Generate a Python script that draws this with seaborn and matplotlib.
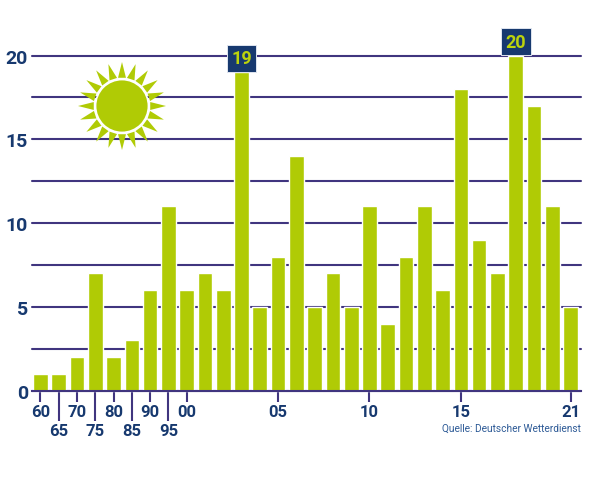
import numpy as np
import pandas as pd
import seaborn as sns
import matplotlib.pyplot as plt
from matplotlib.patches import Circle, Polygon

years = ['60', '65', '70', '75', '80', '85', '90', '95', '00', '01', '02', '03', '04', '05', '06',
         '07', '08', '09', '10', '11', '12', '13', '14', '15', '16', '17', '18', '19', '20', '21']
days = [1, 1, 2, 7, 2, 3, 6, 11, 6, 7, 6, 19, 5, 8, 14,
        5, 7, 5, 11, 4, 8, 11, 6, 18, 9, 7, 20, 17, 11, 5]
short_ticks = ['60', '70', '80', '90', '00', '05', '10', '15', '21']
long_ticks = ['65', '75', '85', '95']
highlight = ['03', '18']
source = 'Quelle: Deutscher Wetterdienst'

green = '#b0cb05'
navy = '#17396f'
line = '#40357f'

sns.set_style('white')
plt.rcParams['font.family'] = ['Roboto', 'DejaVu Sans']

df = pd.DataFrame({'year': years, 'days': days})

fig = plt.figure(figsize=(6, 4.81), dpi=100)
ax = fig.add_axes([32 / 600, 1 - 391.6 / 481, (581 - 32) / 600, (391.6 - 56.6) / 481])

sns.barplot(data=df, x='year', y='days', color=green, saturation=1, width=0.8,
            edgecolor='white', linewidth=1, ax=ax, zorder=3)
for b in ax.patches:
    b.set_clip_on(False)

ax.set_xlim(-0.46, 29.57)
ax.set_ylim(0, 20)
ax.set_xlabel('')
ax.set_ylabel('')

# y axis: numbers every 5, lines every 2.5
ax.set_yticks([0, 5, 10, 15, 20])
ax.set_yticks([2.5, 7.5, 12.5, 17.5], minor=True)
ax.grid(True, axis='y', which='both', color=line, lw=1.5, clip_on=False)
ax.grid(False, axis='x', which='both')
ax.set_axisbelow(True)
ax.tick_params(axis='y', which='both', length=0, pad=3, labelsize=14, labelcolor=navy)
for t in ax.get_yticklabels():
    t.set_fontweight('bold')

# x axis: two rows of labels
ax.set_xticks([years.index(y) for y in short_ticks], short_ticks)
ax.set_xticks([years.index(y) for y in long_ticks], long_ticks, minor=True)
ax.tick_params(axis='x', which='major', bottom=True, length=8, width=1.5, color=line, pad=1.5,
               labelsize=12, labelcolor=navy)
ax.tick_params(axis='x', which='minor', bottom=True, length=21.5, width=1.5, color=line, pad=2,
               labelsize=12, labelcolor=navy)
for t in ax.get_xticklabels(which='both'):
    t.set_fontweight('bold')

sns.despine(ax=ax, left=True, top=True, right=True)
ax.spines['bottom'].set_color(line)
ax.spines['bottom'].set_linewidth(1.5)
ax.spines['bottom'].set_zorder(4)

# boxes over the two highest bars
for y in highlight:
    i = years.index(y)
    ax.annotate(str(days[i]), xy=(i, days[i]), xytext=(0, 10), textcoords='offset points',
                ha='center', va='center', fontsize=13, fontweight='bold', color='#bcd30c',
                bbox=dict(boxstyle='square,pad=0.25', fc=navy, ec='#dfe5ef', lw=0.7),
                annotation_clip=False, zorder=5)

ax.text(1, -0.111, source, transform=ax.transAxes, ha='right', va='center',
        fontsize=7.3, color='#2d5a96')

# sun, drawn on a pixel overlay
over = fig.add_axes([0, 0, 1, 1], facecolor='none')
over.set_xlim(0, 600)
over.set_ylim(481, 0)
over.axis('off')
cx, cy = 122, 107
for a in np.deg2rad(np.arange(0, 360, 18)):
    da = np.deg2rad(8)
    pts = [(cx + 28.5 * np.cos(a - da), cy + 28.5 * np.sin(a - da)),
           (cx + 44 * np.cos(a), cy + 44 * np.sin(a)),
           (cx + 28.5 * np.cos(a + da), cy + 28.5 * np.sin(a + da))]
    over.add_patch(Polygon(pts, closed=True, fc=green, ec='none'))
over.add_patch(Circle((cx, cy), 26.5, fc=green, ec='white', lw=1.3))

fig.savefig('out.png', dpi=100)
